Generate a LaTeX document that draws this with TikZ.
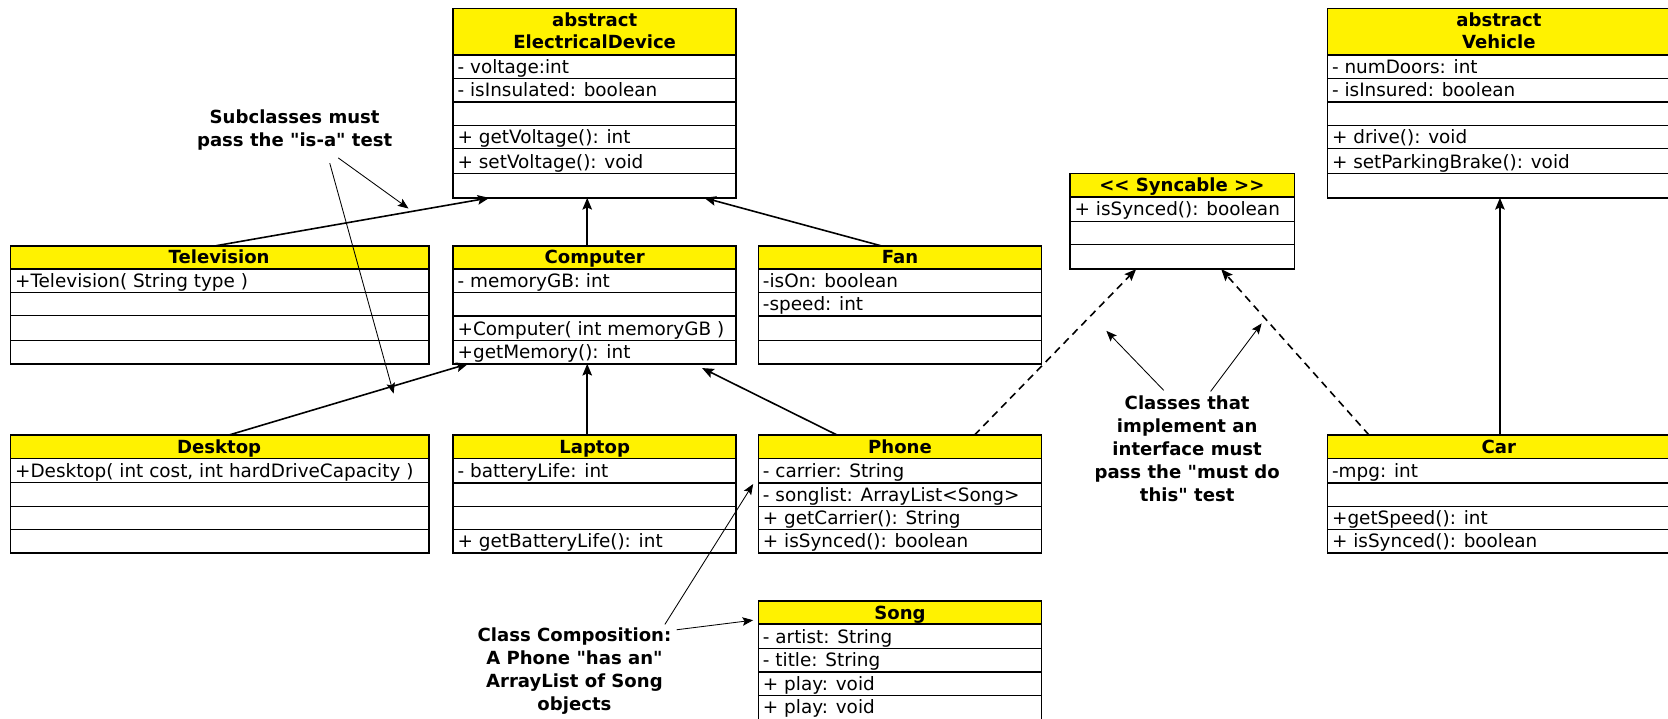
\documentclass[tikz,border=0pt]{standalone}
\usepackage{fontspec}
\setmainfont{DejaVu Sans}[Ligatures=TeXOff]
\usetikzlibrary{arrows.meta,calc}
\definecolor{hdr}{RGB}{255,242,0}
\tikzset{
 classbox/.style={draw, line width=1.6pt, anchor=north west, inner sep=0pt, outer sep=0pt},
 rowsep/.style={line width=0.9pt},
 thicksep/.style={line width=1.8pt},
 rowtxt/.style={anchor=base west, inner sep=0pt, font=\fontsize{17.3}{21}\selectfont},
 hdrtxt/.style={anchor=base, inner sep=0pt, font=\fontsize{17}{21}\selectfont\bfseries},
 note/.style={align=center, inner sep=0pt, font=\fontsize{17}{21.6}\selectfont\bfseries},
 inh/.style={line width=1.5pt, -{Stealth[length=11pt,width=9pt,inset=2pt]}},
 realize/.style={inh, dash pattern=on 7pt off 5pt},
 pointer/.style={line width=0.8pt, -{Stealth[length=10pt,width=8pt,inset=2pt]}},
}
% name, x0, x1, ytop, yhead, ybottom
\newcommand\umlbox[6]{%
 \fill[hdr] (#2,#4) rectangle (#3,#5);
 \node[classbox, minimum width=#3pt-#2pt, minimum height=#6pt-#4pt] (#1) at (#2,#4) {};
 \draw[thicksep] (#2,#5) -- (#3,#5);
}
% [style] x0, x1, y
\newcommand\sepl[4][rowsep]{\draw[#1] (#2,#4) -- (#3,#4);}
% name, x0, ybottom, text
\newcommand\rowt[4]{\node[rowtxt] (#1) at (#2+4,#3-5) {#4};}
% name, xc, baseline, text
\newcommand\hdrt[4]{\node[hdrtxt] (#1) at (#2,#3) {#4};}
\begin{document}
\begin{tikzpicture}[x=1pt,y=-1pt]
\useasboundingbox (0,0) rectangle (1568,675);
\clip (0,0) rectangle (1568,675);

% ---------- ElectricalDevice
\umlbox{ed}{426}{692}{8}{52}{186}
\hdrt{edh1}{559}{25}{abstract}
\hdrt{edh2}{559}{46}{ElectricalDevice}
\sepl{426}{692}{74}\sepl[thicksep]{426}{692}{96}\sepl{426}{692}{118}\sepl{426}{692}{140}\sepl{426}{692}{163}
\rowt{ed1}{426}{74}{- voltage:int}
\rowt{ed2}{426}{96}{- isInsulated: boolean}
\rowt{ed3}{426}{140}{+ getVoltage(): int}
\rowt{ed4}{426}{163}{+ setVoltage(): void}

% ---------- Vehicle
\umlbox{veh}{1248}{1580}{8}{52}{186}
\hdrt{vh1}{1409}{25}{abstract}
\hdrt{vh2}{1409}{46}{Vehicle}
\sepl{1248}{1580}{74}\sepl[thicksep]{1248}{1580}{96}\sepl{1248}{1580}{118}\sepl{1248}{1580}{140}\sepl{1248}{1580}{163}
\rowt{veh1}{1248}{74}{- numDoors: int}
\rowt{veh2}{1248}{96}{- isInsured: boolean}
\rowt{veh3}{1248}{140}{+ drive(): void}
\rowt{veh4}{1248}{163}{+ setParkingBrake(): void}

% ---------- Television
\umlbox{tv}{10}{403}{231}{253}{342}
\hdrt{tvh}{206}{248}{Television}
\sepl{10}{403}{275}\sepl{10}{403}{297}\sepl{10}{403}{320}
\rowt{tv1}{10}{275}{+Television( String type )}

% ---------- Computer
\umlbox{comp}{426}{692}{231}{253}{342}
\hdrt{comph}{559}{248}{Computer}
\sepl{426}{692}{275}\sepl[thicksep]{426}{692}{297}\sepl{426}{692}{320}
\rowt{comp1}{426}{275}{- memoryGB: int}
\rowt{comp2}{426}{320}{+Computer( int memoryGB )}
\rowt{comp3}{426}{342}{+getMemory(): int}

% ---------- Fan
\umlbox{fan}{713}{979}{231}{253}{342}
\hdrt{fanh}{846}{248}{Fan}
\sepl{713}{979}{275}\sepl[thicksep]{713}{979}{297}\sepl{713}{979}{320}
\rowt{fan1}{713}{275}{-isOn: boolean}
\rowt{fan2}{713}{297}{-speed: int}

% ---------- Syncable
\umlbox{sync}{1006}{1217}{163}{185}{253}
\hdrt{synch}{1111}{180}{<< Syncable >>}
\sepl{1006}{1217}{208}\sepl{1006}{1217}{230}
\rowt{sync1}{1006}{208}{+ isSynced(): boolean}

% ---------- Desktop
\umlbox{desk}{10}{403}{409}{431}{520}
\hdrt{deskh}{206}{426}{Desktop}
\sepl{10}{403}{454}\sepl{10}{403}{476}\sepl{10}{403}{498}
\rowt{desk1}{10}{454}{+Desktop( int cost, int hardDriveCapacity )}

% ---------- Laptop
\umlbox{lap}{426}{692}{409}{431}{520}
\hdrt{laph}{559}{426}{Laptop}
\sepl[thicksep]{426}{692}{454}\sepl{426}{692}{476}\sepl{426}{692}{498}
\rowt{lap1}{426}{454}{- batteryLife: int}
\rowt{lap2}{426}{520}{+ getBatteryLife(): int}

% ---------- Phone
\umlbox{phone}{713}{979}{409}{431}{520}
\hdrt{phoneh}{846}{426}{Phone}
\sepl[thicksep]{713}{979}{454}\sepl{713}{979}{476}\sepl{713}{979}{498}
\rowt{phone1}{713}{454}{- carrier: String}
\rowt{phone2}{713}{476}{- songlist: ArrayList<Song>}
\rowt{phone3}{713}{498}{+ getCarrier(): String}
\rowt{phone4}{713}{520}{+ isSynced(): boolean}

% ---------- Car
\umlbox{car}{1248}{1580}{409}{431}{520}
\hdrt{carh}{1409}{426}{Car}
\sepl[thicksep]{1248}{1580}{454}\sepl{1248}{1580}{476}\sepl{1248}{1580}{498}
\rowt{car1}{1248}{454}{-mpg: int}
\rowt{car2}{1248}{498}{+getSpeed(): int}
\rowt{car3}{1248}{520}{+ isSynced(): boolean}

% ---------- Song
\umlbox{song}{713}{979}{565}{587}{678}
\hdrt{songh}{846}{582}{Song}
\sepl{713}{979}{610}\sepl[thicksep]{713}{979}{632}\sepl{713}{979}{654}
\rowt{song1}{713}{610}{- artist: String}
\rowt{song2}{713}{632}{- title: String}
\rowt{song3}{713}{654}{+ play: void}
\rowt{song4}{713}{676}{+ play: void}

% ---------- inheritance / realization connectors
\draw[inh] ($(tv.north west)+(193,0)$) -- ($(ed.south west)+(34,0)$);
\draw[inh] ($(comp.north west)+(126,0)$) -- ($(ed.south west)+(126,0)$);
\draw[inh] ($(fan.north west)+(115,0)$) -- ($(ed.south west)+(236,0)$);
\draw[inh] ($(desk.north west)+(205,0)$) -- ($(comp.south west)+(14,0)$);
\draw[inh] ($(lap.north west)+(126,0)$) -- ($(comp.south west)+(126,0)$);
\draw[inh] ($(phone.north west)+(74,0)$) -- ($(comp.south west)+(234,4)$);
\draw[realize] ($(phone.north west)+(203,0)$) -- ($(sync.south west)+(62,0)$);
\draw[realize] ($(car.north west)+(39,0)$) -- ($(sync.south west)+(142,0)$);
\draw[inh] ($(car.north west)+(162,0)$) -- ($(veh.south west)+(162,0)$);

% ---------- notes
\node[note, anchor=north] (isa) at (277,103) {Subclasses must\\pass the "is-a" test};
\coordinate (isa1) at (384,196);
\coordinate (isa2) at (370,370);
\draw[pointer] ($(isa.south)+(41,7)$) -- (isa1);
\draw[pointer] ($(isa.south)+(33,12)$) -- (isa2);

\node[note, anchor=north] (impl) at (1116,372) {Classes that\\implement an\\interface must\\pass the "must do\\this" test};
\coordinate (impl1) at (1040,311);
\coordinate (impl2) at (1186,304);
\draw[pointer] ($(impl.north)+(-22,-5)$) -- (impl1);
\draw[pointer] ($(impl.north)+(22,-4)$) -- (impl2);

\node[note, anchor=north] (compo) at (540,590) {Class Composition:\\A Phone "has an"\\ArrayList of Song\\objects};
\draw[pointer] ($(compo.north)+(85,-3)$) -- ($(phone.north west)+(-5,46)$);
\draw[pointer] ($(compo.north)+(96,2)$) -- ($(song.north west)+(-5,18)$);
\end{tikzpicture}
\end{document}
